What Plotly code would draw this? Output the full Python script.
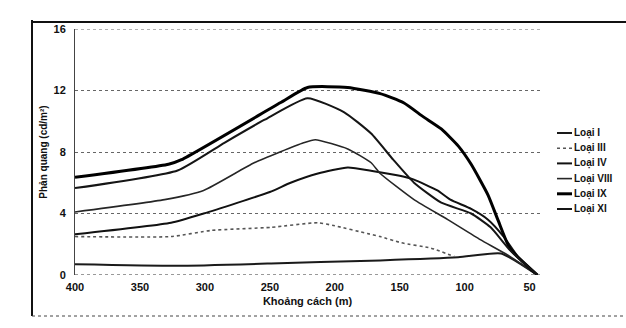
import plotly.graph_objects as go

# ---- data ----
x_I = [400, 321, 249, 211, 165, 105, 72, 44]
y_I = [0.7, 0.6, 0.75, 0.85, 0.95, 1.15, 1.4, 0]

x_III = [400, 326, 295, 249, 213, 200, 175, 165, 149, 126, 108]
y_III = [2.5, 2.5, 2.9, 3.1, 3.4, 3.2, 2.7, 2.5, 2.1, 1.75, 1.2]

x_IV = [400, 326, 301, 250, 234, 213, 190, 170, 150, 139, 121, 111, 95, 82, 70, 59, 44]
y_IV = [2.65, 3.4, 4.0, 5.4, 6.0, 6.6, 7.0, 6.75, 6.45, 6.2, 5.5, 4.9, 4.3, 3.6, 2.5, 1.2, 0]

x_VIII = [400, 331, 301, 262, 224, 215, 190, 172, 165, 139, 113, 88, 67, 44]
y_VIII = [4.1, 4.9, 5.5, 7.3, 8.6, 8.8, 8.2, 7.3, 6.6, 4.9, 3.6, 2.3, 1.3, 0]

x_IX = [400, 328, 318, 242, 221, 190, 165, 147, 132, 118, 105, 95, 82, 74, 65, 44]
y_IX = [6.35, 7.2, 7.5, 11.2, 12.2, 12.2, 11.8, 11.2, 10.3, 9.5, 8.4, 7.2, 5.2, 3.5, 1.7, 0]

x_XI = [400, 321, 285, 254, 221, 193, 172, 155, 139, 118, 95, 80, 65, 44]
y_XI = [5.65, 6.8, 8.6, 10.1, 11.5, 10.6, 9.2, 7.5, 6.0, 4.7, 4.0, 3.1, 1.6, 0]

series_names = ["Loại I", "Loại III", "Loại IV", "Loại VIII", "Loại IX", "Loại XI"]
series_x = [x_I, x_III, x_IV, x_VIII, x_IX, x_XI]
series_y = [y_I, y_III, y_IV, y_VIII, y_IX, y_XI]

x_ticks = [400, 350, 300, 250, 200, 150, 100, 50]
y_ticks = [0, 4, 8, 12, 16]

# ---- styles ----
styles = [
    dict(color="#1a1a1a", width=2.0, dash="solid"),
    dict(color="#555555", width=1.6, dash="dot"),
    dict(color="#111111", width=2.0, dash="solid"),
    dict(color="#262626", width=1.6, dash="solid"),
    dict(color="#000000", width=3.0, dash="solid"),
    dict(color="#151515", width=2.0, dash="solid"),
]

W, H = 626, 328
ML, MR, MT, MB = 75, 86, 29, 53
PW, PH = W - ML - MR, H - MT - MB

def px2x(px):
    return (px - ML) / PW

def py2y(py):
    return (H - MB - py) / PH

fig = go.Figure()
for name, xs, ys, st in zip(series_names, series_x, series_y, styles):
    fig.add_trace(go.Scatter(
        x=xs, y=ys, mode="lines", name=name,
        line=dict(color=st["color"], width=st["width"], dash=st["dash"],
                  shape="spline", smoothing=0.5),
        showlegend=False,
    ))

FONT = "Liberation Sans"

# manual legend (compact spacing as in the reference)
leg_top = 133
leg_step = 15.2
for i, (name, st) in enumerate(zip(series_names, styles)):
    py = leg_top + i * leg_step
    fig.add_shape(type="line", xref="paper", yref="paper",
                  x0=px2x(557), x1=px2x(572), y0=py2y(py), y1=py2y(py),
                  line=dict(color=st["color"], width=st["width"], dash=st["dash"]))
    fig.add_annotation(xref="paper", yref="paper", x=px2x(572), y=py2y(py),
                       text="<b>" + name + "</b>", showarrow=False,
                       xanchor="left", yanchor="middle",
                       font=dict(family=FONT, size=10, color="#111"))

# edge grid lines (top and bottom of the value range)
for yv, col in [(y_ticks[0], "#333"), (y_ticks[-1], "#666")]:
    fig.add_shape(type="line", xref="paper", yref="y", x0=0, x1=1, y0=yv, y1=yv,
                  line=dict(color=col, width=1, dash="dot"), layer="below")

# outer frame
fig.add_shape(type="line", xref="paper", yref="paper",
              x0=px2x(32), x1=px2x(626), y0=py2y(22), y1=py2y(22),
              line=dict(color="#111", width=2))
fig.add_shape(type="line", xref="paper", yref="paper",
              x0=px2x(32), x1=px2x(32), y0=py2y(20), y1=py2y(316),
              line=dict(color="#111", width=2))
fig.add_shape(type="line", xref="paper", yref="paper",
              x0=px2x(32), x1=px2x(626), y0=py2y(316), y1=py2y(316),
              line=dict(color="#444", width=1, dash="dot"))

fig.update_layout(
    width=W, height=H,
    margin=dict(l=ML, r=MR, t=MT, b=MB),
    paper_bgcolor="white", plot_bgcolor="white",
    font=dict(family=FONT, size=11, color="#111"),
    xaxis=dict(
        range=[400, 42], tickvals=x_ticks, ticktext=["<b>%d</b>" % v for v in x_ticks],
        showgrid=False, zeroline=False, showline=False, ticks="",
        ticklabelstandoff=4,
        tickfont=dict(family=FONT, size=11, color="#111"),
        title=dict(text="<b>Khoảng cách (m)</b>", standoff=5,
                   font=dict(family=FONT, size=11, color="#111")),
    ),
    yaxis=dict(
        range=[0, 16], tickvals=y_ticks, ticktext=["<b>%d</b>" % v for v in y_ticks],
        showgrid=True, gridcolor="#666", griddash="dot", gridwidth=1,
        zeroline=False, showline=True, linecolor="#444", linewidth=1, ticks="",
        ticklabelstandoff=6,
        tickfont=dict(family=FONT, size=11, color="#111"),
        title=dict(text="<b>Phản quang (cd/m²)</b>", standoff=4,
                   font=dict(family=FONT, size=10, color="#111")),
    ),
)

fig.write_html("out.html")
